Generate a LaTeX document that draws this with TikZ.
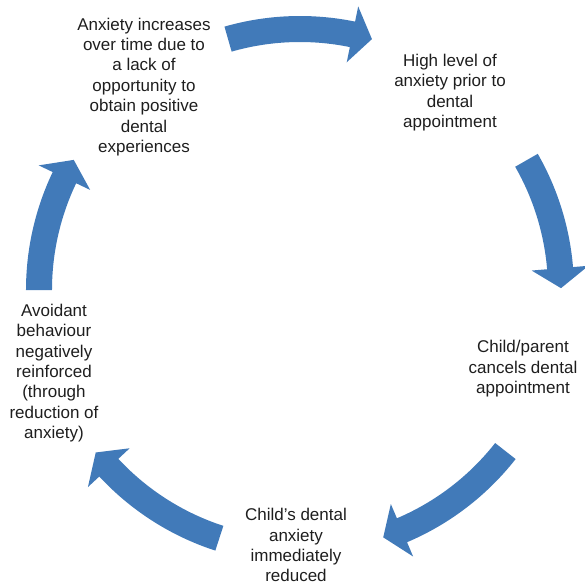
\documentclass[tikz,border=0pt]{standalone}
\usepackage{fontspec}
\setmainfont{Liberation Sans}
\definecolor{cycleBlue}{RGB}{65,122,185}
\definecolor{cycleText}{RGB}{30,30,30}
\begin{document}
\begin{tikzpicture}
[x=1pt,y=1pt,%
  arrowDecorate/.style={fill=cycleBlue,draw=none},%
  nodeDecorate/.style={align=center,inner sep=0pt,text=cycleText,
    font=\fontsize{17pt}{20.4pt}\selectfont}]
\useasboundingbox (-300,-297) rectangle (285,290);
\coordinate (centre) at (0,0);
%% texts of the cycle
\foreach \nodename/\x/\y/\label in {
  anxiety/-156/203/{Anxiety increases\\over time due to\\a lack of\\opportunity to\\obtain positive\\dental\\experiences},
  high/150/197.5/{High level of\\anxiety prior to\\dental\\appointment},
  cancel/223/-78.7/{Child/parent\\cancels dental\\appointment},
  reduced/-4/-255.3/{Child's dental\\anxiety\\immediately\\reduced},
  avoid/-246/-83.2/{Avoidant\\behaviour\\negatively\\reinforced\\(through\\reduction of\\anxiety)}}
{
  \node (\nodename) at (\x,\y) [nodeDecorate] {\label};
}
%% curved block arrows, clockwise
\foreach \tail/\tip in {106/74, 29.8/0.4, -38.1/-71.4, -108/-141.5, 180/150.1}
{
  \pgfmathsetmacro\neck{\tip+4.4}
  \fill[arrowDecorate] ([shift={(\tail:274pt)}]centre)
    arc[start angle=\tail, end angle=\neck, radius=274pt]
    -- ([shift={(\neck:289.5pt)}]centre) -- ([shift={(\tip:261pt)}]centre)
    -- ([shift={(\neck:232.5pt)}]centre) -- ([shift={(\neck:248pt)}]centre)
    arc[start angle=\neck, end angle=\tail, radius=248pt] -- cycle;
}
\end{tikzpicture}
\end{document}
